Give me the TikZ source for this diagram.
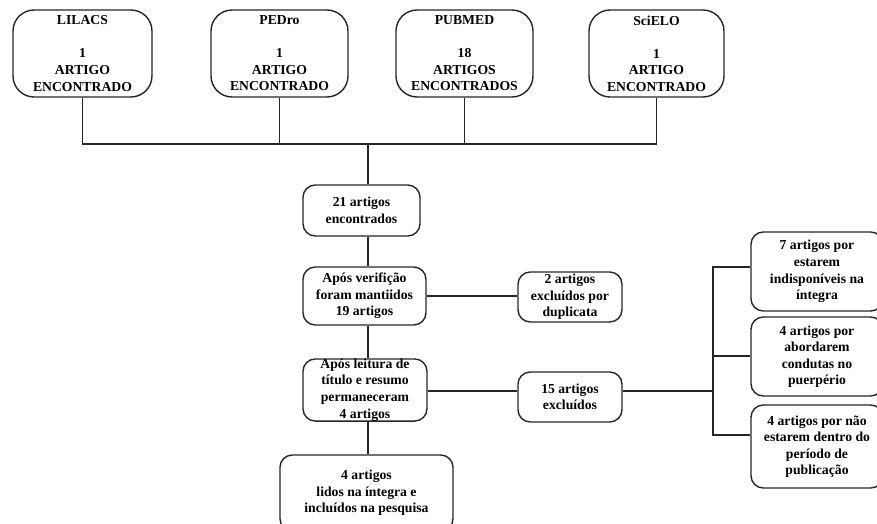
\documentclass[tikz,border=0pt]{standalone}
\usepackage{fontspec}
\setmainfont{Liberation Serif}
\usepackage{tikz}
\usetikzlibrary{positioning, calc}
\tikzset{ x=0.02cm, y=-0.02cm, line width=0.8pt,
  base/.style={draw=black!85, line width=0.8pt, align=center, inner sep=0pt,
    font=\bfseries\fontsize{7.8}{9.4}\selectfont},
  dbox/.style={base, rounded corners=12pt, minimum width=#1*0.02cm, minimum height=87*0.02cm},
  sbox/.style n args={2}{base, rounded corners=7pt, minimum width=#1*0.02cm, minimum height=#2*0.02cm},
  link/.style={draw=black!85, line width=0.8pt} }

\begin{document}
\begin{tikzpicture}
\useasboundingbox (0,0) rectangle (877,524);
\clip (0,0) rectangle (877,524);
\node[dbox=139] (lilacs) at (82.5,53.5) {LILACS\\[9.4pt]1\\ARTIGO\\ENCONTRADO};
\node[dbox=137] (pedro) at (279.5,53.5) {PEDro\\[9.4pt]1\\ARTIGO\\ENCONTRADO};
\node[dbox=137] (pubmed) at (464.5,53.5) {PUBMED\\[9.4pt]18\\ARTIGOS\\ENCONTRADOS};
\node[dbox=135] (scielo) at (656.5,53.5) {SciELO\\[9.4pt]1\\ARTIGO\\ENCONTRADO};
\coordinate (J) at (368,144);
\node[sbox={117}{51}] (total) at (361.5,210.5) {21 artigos\\encontrados};
\node[sbox={123}{58}] (verif) at (364.5,296) {Após verifição\\foram mantiidos\\19 artigos};
\node[sbox={104}{50}] (dup) at (570,297) {2 artigos\\excluídos por\\duplicata};
\node[sbox={124}{62}] (leitura) at (365,390) {Após leitura de\\título e resumo\\permaneceram\\4 artigos};
\node[sbox={104}{50}] (excl) at (570,397) {15 artigos\\excluídos};
\node[sbox={173}{76}] (final) at (366.5,493) {4 artigos\\lidos na íntegra e\\incluídos na pesquisa};
\node[sbox={132}{79}] (indisp) at (817,271.5) {7 artigos por\\estarem\\indisponíveis na\\íntegra};
\node[sbox={132}{79}] (puerp) at (817,356.5) {4 artigos por\\abordarem\\condutas no\\puerpério};
\node[sbox={132}{83}] (periodo) at (817,446.5) {4 artigos por não\\estarem dentro do\\período de\\publicação};
\coordinate (B) at (713,391);
\coordinate (Bt) at (713,267);
\coordinate (Bm) at (713,356);
\coordinate (Bb) at (713,435);
\draw[link] (lilacs.south) -- (lilacs.south |- J) -- (scielo.south |- J) -- (scielo.south);
\draw[link] (pedro.south) -- (pedro.south |- J);
\draw[link] (pubmed.south) -- (pubmed.south |- J);
\draw[link] (J) -- (J |- total.north);
\draw[link] (J |- total.south) -- (J |- verif.north);
\draw[link] (J |- verif.south) -- (J |- leitura.north);
\draw[link] (J |- leitura.south) -- (J |- final.north);
\draw[link] (verif.east) -- (verif.east -| dup.west);
\draw[link] (leitura.east |- B) -- (B -| excl.west);
\draw[link] (B -| excl.east) -- (B);
\draw[link] (Bt -| indisp.west) -- (Bt) -- (Bb) -- (Bb -| periodo.west);
\draw[link] (Bm) -- (Bm -| puerp.west);
\end{tikzpicture}
\end{document}
